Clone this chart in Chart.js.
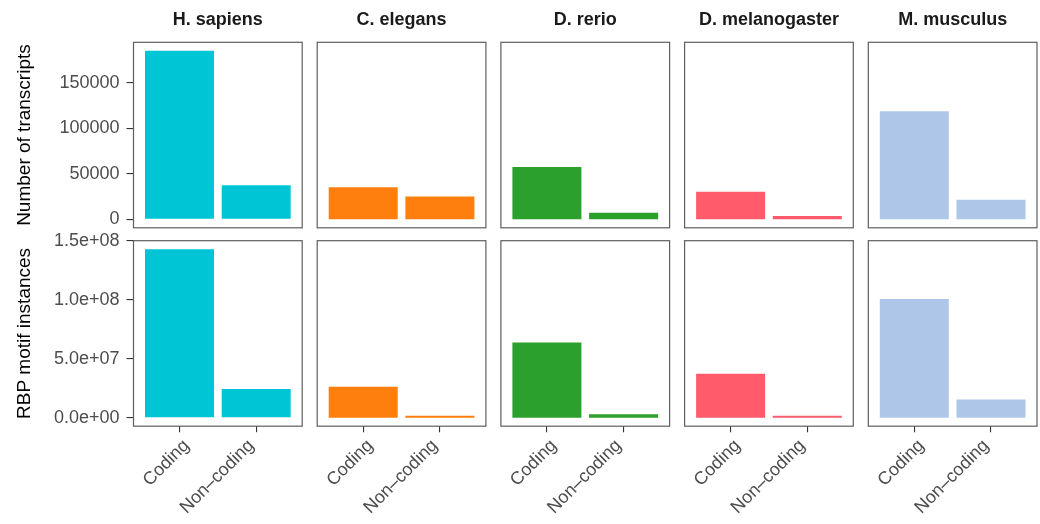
<!DOCTYPE html>
<html>
<head>
<meta charset="utf-8">
<script src="https://cdn.jsdelivr.net/npm/chart.js@4.4.1/dist/chart.umd.min.js"></script>
<style>
  html, body { margin: 0; padding: 0; background: #ffffff; }
  #fig { position: relative; width: 1040px; height: 524px; overflow: hidden; }
  #fig canvas { position: absolute; left: 0; top: 0; }
</style>
</head>
<body>
<div id="fig"></div>
<script>
// Facet columns (species) and the two bar categories
const species = ['H. sapiens', 'C. elegans', 'D. rerio', 'D. melanogaster', 'M. musculus'];
const categories = ['Coding', 'Non\u2013coding'];

// Row 1: number of transcripts per species, [coding, non-coding]
const transcriptCounts = [
  [185000, 37500],
  [35300, 25200],
  [57500, 7200],
  [30200, 3600],
  [118500, 21500]
];

// Row 2: RBP motif instances per species, [coding, non-coding]
const motifInstances = [
  [143000000, 24500000],
  [26200000, 1700000],
  [63900000, 3000000],
  [37400000, 1700000],
  [100800000, 15500000]
];

const speciesColors = ['#00C5D4', '#FF7F0E', '#2CA02C', '#FF5B6A', '#AEC7E8'];

const transcriptTicks = [0, 50000, 100000, 150000];
const transcriptTickLabels = ['0', '50000', '100000', '150000'];
const motifTicks = [0, 5e7, 1e8, 1.5e8];
const motifTickLabels = ['0.0e+00', '5.0e+07', '1.0e+08', '1.5e+08'];

const rowTitles = ['Number of transcripts', 'RBP motif instances'];

const rows = [
  { values: transcriptCounts, ticks: transcriptTicks, labels: transcriptTickLabels, title: rowTitles[0] },
  { values: motifInstances, ticks: motifTicks, labels: motifTickLabels, title: rowTitles[1] }
];

// Figure geometry
const FIG_W = 1040, FIG_H = 524;
const PANEL_LEFT0 = 133.5, PANEL_STEP = 183.7, PANEL_W = 168.7;
const ROW_TOP = [42.3, 240.7], PANEL_H = 185.5;
const XAXIS_H = 95;
const X_LABEL_NUDGE = [1, -11];   // horizontal nudge of each rotated category label
const FONT = '"Liberation Sans", Arial, Helvetica, sans-serif';

// Grey frame around each facet panel
const panelBorder = {
  id: 'panelBorder',
  afterDraw(chart) {
    const { ctx, chartArea: a } = chart;
    ctx.save();
    ctx.strokeStyle = '#5e5e5e';
    ctx.lineWidth = 1.2;
    ctx.strokeRect(a.left, a.top, a.right - a.left, a.bottom - a.top);
    ctx.restore();
  }
};

// Per-label horizontal nudge for the rotated category labels
const labelNudge = {
  id: 'labelNudge',
  beforeDraw(chart) {
    const sx = chart.scales.x;
    if (!sx || !sx.options.display) return;
    sx.getLabelItems().forEach((item, i) => {
      item.options.translation[0] += X_LABEL_NUDGE[i] || 0;
    });
  }
};

const fig = document.getElementById('fig');

rows.forEach((row, r) => {
  const rowMax = Math.max(...row.values.flat());
  species.forEach((name, c) => {
    const canvas = document.createElement('canvas');
    canvas.width = FIG_W;
    canvas.height = FIG_H;
    fig.appendChild(canvas);

    const left = PANEL_LEFT0 + c * PANEL_STEP;
    const padRight = FIG_W - (left + PANEL_W);
    const top = ROW_TOP[r];
    const showX = r === 1;
    const showY = c === 0;
    const padBottom = FIG_H - (top + PANEL_H) - (showX ? XAXIS_H : 0);

    new Chart(canvas, {
      type: 'bar',
      data: {
        datasets: [{
          data: categories.map((k, i) => ({ x: i + 1, y: row.values[c][i] })),
          backgroundColor: speciesColors[c],
          borderWidth: 0,
          categoryPercentage: 1,
          barPercentage: 0.9
        }]
      },
      options: {
        responsive: false,
        animation: false,
        events: [],
        devicePixelRatio: 1,
        layout: {
          padding: {
            left: showY ? 0 : left,
            right: padRight,
            top: r === 0 ? 0 : top,
            bottom: padBottom
          }
        },
        plugins: {
          legend: { display: false },
          tooltip: { enabled: false },
          title: {
            display: r === 0,
            text: name,
            fullSize: false,
            color: '#1a1a1a',
            font: { family: FONT, size: 18, weight: 'bold', lineHeight: 1.2 },
            padding: { top: 9, bottom: ROW_TOP[0] - 9 - 21.6 }
          }
        },
        scales: {
          x: {
            type: 'linear',
            min: 0.4,
            max: 2.6,
            offset: false,
            display: showX,
            afterBuildTicks: s => { s.ticks = categories.map((k, i) => ({ value: i + 1 })); },
            afterFit: s => {
              if (showX) { s.height = XAXIS_H; }
              s.paddingLeft = 0;
              s.paddingRight = 0;
            },
            border: { display: false },
            grid: { offset: false, drawOnChartArea: false, drawTicks: true, tickLength: 6, color: '#333333', lineWidth: 1.1 },
            ticks: {
              autoSkip: false,
              minRotation: 45,
              maxRotation: 45,
              padding: 3,
              labelOffset: 6,
              color: '#4d4d4d',
              font: { family: FONT, size: 18 },
              callback: v => categories[v - 1]
            }
          },
          y: {
            type: 'linear',
            min: -0.05 * rowMax,
            max: 1.05 * rowMax,
            display: showY,
            afterBuildTicks: s => { s.ticks = row.ticks.map(v => ({ value: v })); },
            afterFit: s => {
              if (showY) { s.width = left; }
              s.paddingTop = 0;
              s.paddingBottom = 0;
            },
            border: { display: false },
            grid: { drawOnChartArea: false, drawTicks: true, tickLength: 7, color: '#333333', lineWidth: 1.1 },
            ticks: {
              padding: 7,
              color: '#4d4d4d',
              font: { family: FONT, size: 18 },
              callback: v => row.labels[row.ticks.indexOf(v)]
            },
            title: {
              display: true,
              text: row.title,
              color: '#000000',
              font: { family: FONT, size: 19 },
              padding: { top: 13.5, bottom: 0 }
            }
          }
        }
      },
      plugins: [panelBorder, labelNudge]
    });
  });
});
</script>
</body>
</html>
